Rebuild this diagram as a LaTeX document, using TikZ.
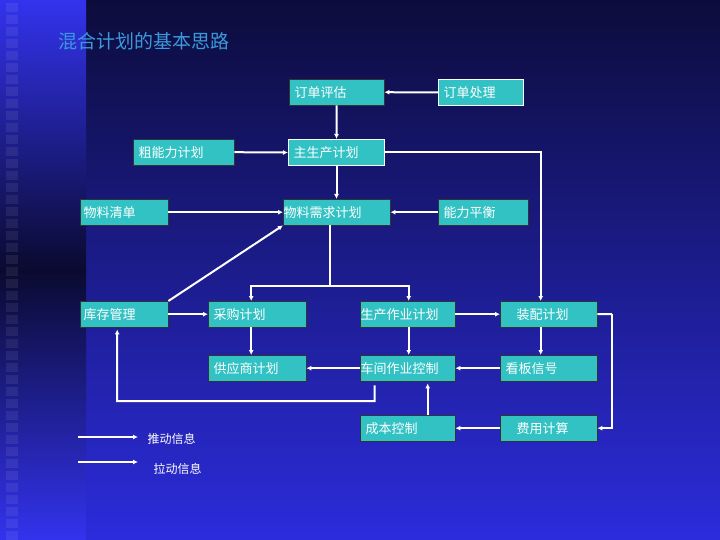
\documentclass[tikz,border=0pt]{standalone}
\usepackage{fontspec}
\setmainfont{Noto Sans CJK SC}
\usetikzlibrary{arrows.meta}
\begin{document}
\begin{tikzpicture}[x=1pt,y=-1pt,
  box/.style={draw=black!80,fill=teal1,inner sep=0pt,anchor=north west},
  wbox/.style={box,draw=white,line width=1pt},
  lbl/.style={anchor=west,text=white,font=\fontsize{13}{15}\selectfont},
  conn/.style={draw=white,line width=2pt,-{Latex[length=5pt,width=5pt]}},
  ln/.style={draw=white,line width=2pt}]
\definecolor{teal1}{HTML}{33C2C4}
\definecolor{navyT}{HTML}{0C0C3C}
\definecolor{navyB}{HTML}{2C2CDC}
\definecolor{bandB}{HTML}{3333EE}
\definecolor{bandD}{HTML}{0A0A30}
\useasboundingbox (0,0) rectangle (720,540);
\shade[top color=navyT,bottom color=navyB] (0,0) rectangle (720,540);
\shade[top color=bandB,bottom color=bandD] (0,0) rectangle (86,270);
\shade[top color=bandD,bottom color=bandB] (0,270) rectangle (86,540);
\foreach \i in {0,...,44}{
  \fill[white,opacity=0.07] (6,{12*\i+3}) rectangle (18,{12*\i+12});
}
\node[anchor=west,text=cyan!70!blue!80!white,font=\fontsize{19}{22}\selectfont] (title) at (55,41) {混合计划的基本思路};
\newcommand\bx[6]{\node[#1,minimum width={#4-#2},minimum height={#5-#3}] (#6) at (#2,#3) {};}
\bx{box}{289}{79}{384}{105}{pg}\node[lbl] at (pg.west) {\,订单评估};
\bx{wbox}{438}{79}{523}{105}{ph}\node[lbl] at (ph.west) {\,订单处理};
\bx{box}{133}{139}{234}{165}{cn}\node[lbl] at (cn.west) {\,粗能力计划};
\bx{wbox}{288}{139}{384}{165}{zs}\node[lbl] at (zs.west) {\,主生产计划};
\bx{box}{80}{199}{168}{225}{qd}\node[lbl] at (qd.west) {物料清单};
\bx{box}{283}{199}{390}{225}{xq}\node[lbl,xshift=-3pt] at (xq.west) {物料需求计划};
\bx{box}{438}{199}{528}{225}{ph2}\node[lbl] at (ph2.west) {\,能力平衡};
\bx{box}{80}{301}{168}{327}{kc}\node[lbl] at (kc.west) {库存管理};
\bx{box}{208}{301}{306}{327}{cg}\node[lbl] at (cg.west) {\,采购计划};
\bx{box}{360}{301}{455}{327}{sc}\node[lbl,xshift=-3pt] at (sc.west) {生产作业计划};
\bx{box}{500}{301}{597}{327}{zp}\node[lbl] at (zp.west) {\quad 装配计划};
\bx{box}{208}{355}{306}{381}{gy}\node[lbl] at (gy.west) {\,供应商计划};
\bx{box}{360}{355}{455}{381}{cj}\node[lbl,xshift=-3pt] at (cj.west) {车间作业控制};
\bx{box}{500}{355}{597}{381}{kb}\node[lbl] at (kb.west) {\,看板信号};
\bx{box}{360}{415}{455}{441}{cb}\node[lbl] at (cb.west) {\,成本控制};
\bx{box}{500}{415}{597}{441}{fy}\node[lbl] at (fy.west) {\quad 费用计算};
% connectors
\draw[conn] (ph.west) -- (pg.east);
\draw[conn] (pg.south) -- (zs.north);
\draw[conn] (cn.east) -- (zs.west);
\draw[conn] (zs.south) -- (zs.south |- xq.north);
\draw[conn] (zs.east) -| ([xshift=-8pt]zp.north);
\draw[conn] (qd.east) -- (xq.west);
\draw[conn] (ph2.west) -- (xq.east);
\draw[conn] (kc.north east) -- (xq.south west);
\coordinate (sp) at (330,286);
\draw[ln] (xq.south -| sp) -- (sp);
\draw[conn] (sp) -| ([xshift=-6pt]cg.north);
\draw[conn] (sp) -| ([xshift=1pt]sc.north);
\draw[conn] (kc.east) -- (cg.west);
\draw[conn] (sc.east) -- (zp.west);
\draw[conn] ([xshift=-6pt]cg.south) -- ([xshift=-6pt]gy.north);
\draw[conn] ([xshift=1pt]sc.south) -- ([xshift=1pt]cj.north);
\draw[conn] ([xshift=-8pt]zp.south) -- ([xshift=-8pt]kb.north);
\draw[conn] (cj.west) -- (gy.east);
\draw[conn] (kb.west) -- (cj.east);
\coordinate (lp) at (117,401);
\draw[conn] ([xshift=-33pt,yshift=-4pt]cj.south) |- (lp) -- ([xshift=-7pt,yshift=-2pt]kc.south);
\draw[conn] ([xshift=20pt]cb.north) -- ([xshift=20pt,yshift=-2pt]cj.south);
\draw[conn] (fy.west) -- (cb.east);
\coordinate (rp) at (612,314);
\draw[ln] (zp.east) -- (rp);
\draw[conn] (rp) |- (fy.east);
% legend
\coordinate (l1a) at (78,437); \coordinate (l1b) at (138,437);
\coordinate (l2a) at (78,462); \coordinate (l2b) at (138,462);
\draw[conn,line width=1.2pt] (l1a) -- (l1b);
\draw[conn] (l2a) -- (l2b);
\node[anchor=west,text=white,font=\fontsize{12}{14}\selectfont] (t1) at (144,439) {推动信息};
\node[anchor=west,text=white,font=\fontsize{12}{14}\selectfont] (t2) at (150,469) {拉动信息};
\end{tikzpicture}
\end{document}
